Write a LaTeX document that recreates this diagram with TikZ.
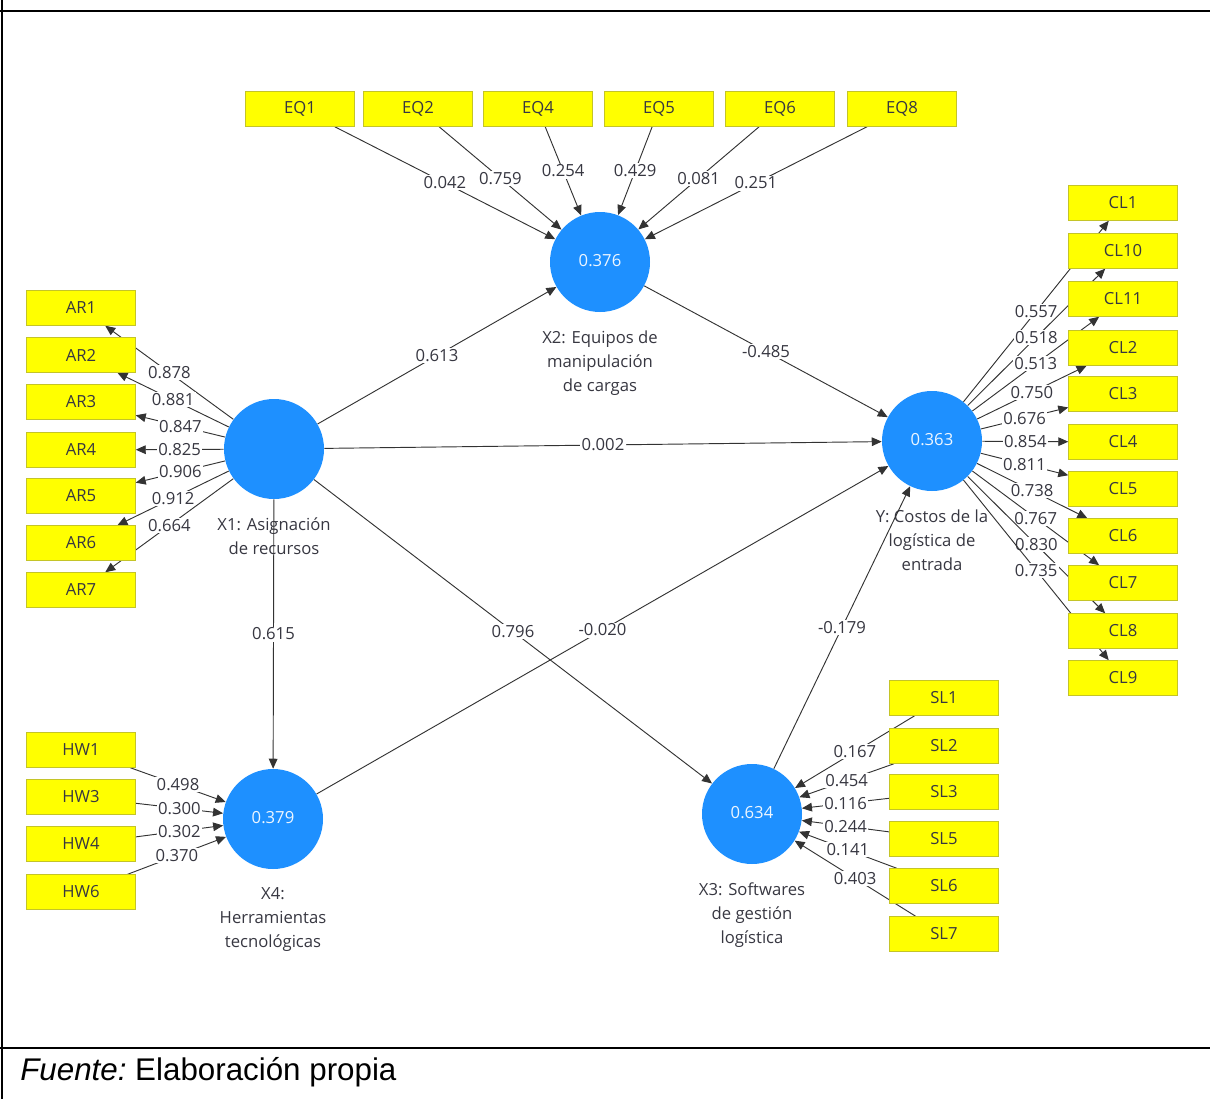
\documentclass[tikz,border=0pt]{standalone}
\usepackage{fontspec}
\setmainfont{Open Sans}
\newfontfamily\fuentefont{Liberation Sans}
\usepackage{tikz}
\usetikzlibrary{arrows.meta,positioning}

\definecolor{lvblue}{RGB}{30,144,255}
\definecolor{mvyellow}{RGB}{255,255,0}
\definecolor{mvborder}{RGB}{196,196,40}
\definecolor{txtgray}{RGB}{55,55,65}

\pgfdeclarelayer{background}
\pgfsetlayers{background,main}

\begin{document}
\begin{tikzpicture}[x=0.75pt,y=-0.75pt,
  lv/.style={circle,fill=lvblue,minimum size=75pt,inner sep=0pt,text=white!92!lvblue,font=\fontsize{12.5}{18}\selectfont},
  mv/.style={rectangle,fill=mvyellow,draw=mvborder,line width=0.6pt,minimum width=81.5pt,minimum height=26pt,inner sep=0pt,text=txtgray,font=\fontsize{12.5}{18}\selectfont},
  lvname/.style={align=center,inner sep=0pt,text=txtgray,font=\fontsize{12.5}{18}\selectfont},
  rel/.style={draw=black!80,line width=0.7pt,-{Triangle[length=7.5pt,width=6.5pt]}},
  wt/.style={fill=white,inner sep=1pt,text=txtgray,font=\fontsize{12.5}{18}\selectfont}]
\useasboundingbox (0,0) rectangle (1210,1099);

% table rules
\draw[line width=1pt] (2,0) -- (2,1099);
\draw[line width=1.5pt] (0,11) -- (1210,11);
\draw[line width=1.5pt] (0,1048) -- (1210,1048);

% latent variables
\node[lv] (x1) at (274,449) {};
\node[lv] (x2) at (600,262) {\raisebox{2pt}{0.376}};
\node[lv] (y) at (932,441) {\raisebox{2pt}{0.363}};
\node[lv] (x4) at (273,819) {\raisebox{2pt}{0.379}};
\node[lv] (x3) at (752,814) {\raisebox{2pt}{0.634}};

% indicators
\node[mv] (eq1) at (300,109) {EQ1};
\node[mv] (eq2) at (418,109) {EQ2};
\node[mv] (eq4) at (538,109) {EQ4};
\node[mv] (eq5) at (659,109) {EQ5};
\node[mv] (eq6) at (780,109) {EQ6};
\node[mv] (eq8) at (902,109) {EQ8};

\node[mv] (ar1) at (81,308) {AR1};
\node[mv] (ar2) at (81,355) {AR2};
\node[mv] (ar3) at (81,402) {AR3};
\node[mv] (ar4) at (81,450) {AR4};
\node[mv] (ar5) at (81,496) {AR5};
\node[mv] (ar6) at (81,543) {AR6};
\node[mv] (ar7) at (81,590) {AR7};

\node[mv] (cl1) at (1123,203) {CL1};
\node[mv] (cl10) at (1123,251) {CL10};
\node[mv] (cl11) at (1123,299) {CL11};
\node[mv] (cl2) at (1123,348) {CL2};
\node[mv] (cl3) at (1123,394) {CL3};
\node[mv] (cl4) at (1123,442) {CL4};
\node[mv] (cl5) at (1123,489) {CL5};
\node[mv] (cl6) at (1123,536) {CL6};
\node[mv] (cl7) at (1123,583) {CL7};
\node[mv] (cl8) at (1123,631) {CL8};
\node[mv] (cl9) at (1123,678) {CL9};

\node[mv] (hw1) at (81,750) {HW1};
\node[mv] (hw3) at (81,797) {HW3};
\node[mv] (hw4) at (81,844) {HW4};
\node[mv] (hw6) at (81,892) {HW6};

\node[mv] (sl1) at (944,698) {SL1};
\node[mv] (sl2) at (944,746) {SL2};
\node[mv] (sl3) at (944,792) {SL3};
\node[mv] (sl5) at (944,839) {SL5};
\node[mv] (sl6) at (944,886) {SL6};
\node[mv] (sl7) at (944,934) {SL7};

% edges go under the boxes
\begin{pgfonlayer}{background}
\node[lvname, below=13.5pt of x1] (x1name) {X1: Asignación\\de recursos};
\node[lvname, below=13.5pt of x2] (x2name) {X2: Equipos de\\manipulación\\de cargas};
\node[lvname, below=13.5pt of y] (yname) {Y: Costos de la\\logística de\\entrada};
\node[lvname, below=13.5pt of x4] (x4name) {X4:\\Herramientas\\tecnológicas};
\node[lvname, below=13.5pt of x3] (x3name) {X3: Softwares\\de gestión\\logística};

% inner model
\draw[rel] (x1) -- node[wt] {0.613} (x2);
\draw[rel] (x2) -- node[wt] {-0.485} (y);
\draw[rel] (x1) -- node[wt] {0.002} (y);
\draw[rel] (x1) -- node[wt] {0.615} (x4);
\draw[rel] (x1) -- node[wt] {0.796} (x3);
\draw[rel] (x4) -- node[wt] {-0.020} (y);
\draw[rel] (x3) -- node[wt] {-0.179} (y);

% X2 weights
\draw[rel] (eq1) -- node[wt] {0.042} (x2);
\draw[rel] (eq2) -- node[wt] {0.759} (x2);
\draw[rel] (eq4) -- node[wt] {0.254} (x2);
\draw[rel] (eq5) -- node[wt] {0.429} (x2);
\draw[rel] (eq6) -- node[wt] {0.081} (x2);
\draw[rel] (eq8) -- node[wt] {0.251} (x2);

% X1 loadings
\draw[rel] (x1) -- node[wt] {0.878} (ar1);
\draw[rel] (x1) -- node[wt] {0.881} (ar2);
\draw[rel] (x1) -- node[wt] {0.847} (ar3);
\draw[rel] (x1) -- node[wt] {0.825} (ar4);
\draw[rel] (x1) -- node[wt] {0.906} (ar5);
\draw[rel] (x1) -- node[wt] {0.912} (ar6);
\draw[rel] (x1) -- node[wt] {0.664} (ar7);

% Y loadings
\draw[rel] (y) -- node[wt] {0.557} (cl1);
\draw[rel] (y) -- node[wt] {0.518} (cl10);
\draw[rel] (y) -- node[wt] {0.513} (cl11);
\draw[rel] (y) -- node[wt] {0.750} (cl2);
\draw[rel] (y) -- node[wt] {0.676} (cl3);
\draw[rel] (y) -- node[wt] {0.854} (cl4);
\draw[rel] (y) -- node[wt] {0.811} (cl5);
\draw[rel] (y) -- node[wt] {0.738} (cl6);
\draw[rel] (y) -- node[wt] {0.767} (cl7);
\draw[rel] (y) -- node[wt] {0.830} (cl8);
\draw[rel] (y) -- node[wt] {0.735} (cl9);

% X4 weights
\draw[rel] (hw1) -- node[wt] {0.498} (x4);
\draw[rel] (hw3) -- node[wt] {0.300} (x4);
\draw[rel] (hw4) -- node[wt] {0.302} (x4);
\draw[rel] (hw6) -- node[wt] {0.370} (x4);

% X3 weights
\draw[rel] (sl1) -- node[wt] {0.167} (x3);
\draw[rel] (sl2) -- node[wt] {0.454} (x3);
\draw[rel] (sl3) -- node[wt] {0.116} (x3);
\draw[rel] (sl5) -- node[wt] {0.244} (x3);
\draw[rel] (sl6) -- node[wt] {0.141} (x3);
\draw[rel] (sl7) -- node[wt] {0.403} (x3);
\end{pgfonlayer}

\node[anchor=base west,inner sep=0pt,font=\fuentefont\fontsize{23.5}{28}\selectfont] (fuente) at (20,1080) {{\itshape Fuente:}\ Elaboración propia};
\end{tikzpicture}
\end{document}
